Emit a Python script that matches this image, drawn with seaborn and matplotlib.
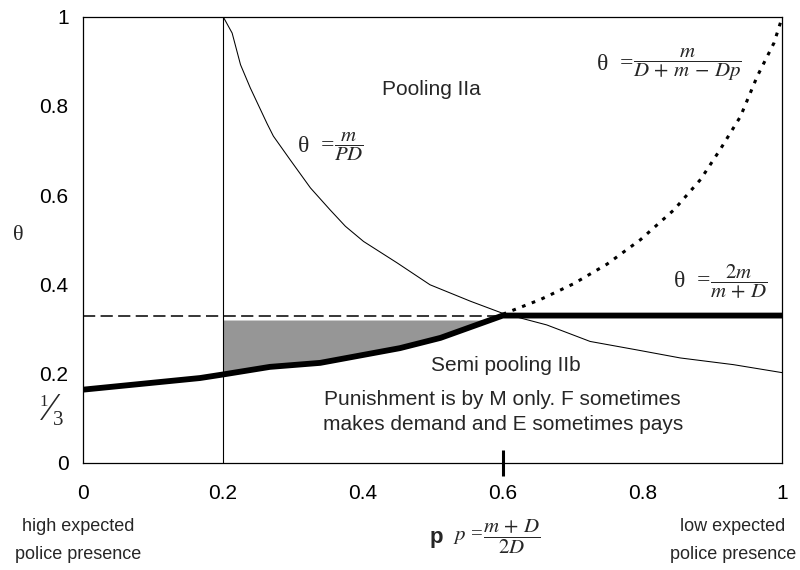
import matplotlib
matplotlib.use("Agg")
import matplotlib.pyplot as plt
import seaborn as sns

# values
tick_vals = [0, 0.2, 0.4, 0.6, 0.8, 1]
tick_labels = ["0", "0.2", "0.4", "0.6", "0.8", "1"]
threshold_p = [0.6]

# thin curve theta = m / (PD)
pd_p = [0.2, 0.213, 0.225, 0.239, 0.263, 0.272, 0.296, 0.325, 0.353, 0.375, 0.401,
        0.449, 0.496, 0.554, 0.6, 0.663, 0.725, 0.792, 0.854, 0.93, 1.0]
pd_theta = [1.0, 0.963, 0.892, 0.840, 0.760, 0.732, 0.679, 0.616, 0.567, 0.530, 0.496,
            0.448, 0.399, 0.362, 0.335, 0.309, 0.272, 0.253, 0.235, 0.220, 0.202]

# dotted curve theta = m / (D + m - Dp), right part
dot_p = [0.6, 0.654, 0.701, 0.749, 0.797, 0.845, 0.883, 0.911, 0.94, 0.964, 0.988, 1.0]
dot_theta = [0.333, 0.366, 0.401, 0.445, 0.500, 0.567, 0.635, 0.702, 0.776, 0.866, 0.941, 1.0]

# thick equilibrium line
thick_p = [0, 0.167, 0.2, 0.267, 0.339, 0.453, 0.511, 0.6, 0.8, 1.0]
thick_theta = [0.164, 0.190, 0.198, 0.215, 0.224, 0.257, 0.280, 0.330, 0.330, 0.330]

# dashed level and grey region
dash_p = [0, 0.6]
dash_theta = [0.329, 0.329]
grey_p = [0.2, 0.267, 0.339, 0.453, 0.511, 0.59]
grey_low = [0.198, 0.215, 0.224, 0.257, 0.280, 0.320]
grey_top = 0.320

sns.set_theme(style="white")
plt.rcParams["font.family"] = ["Liberation Sans", "DejaVu Sans"]
plt.rcParams["mathtext.fontset"] = "stix"
serif = ["Liberation Serif", "DejaVu Serif"]

fig = plt.figure(figsize=(8, 5.7), dpi=100)
ax = fig.add_axes([0.104, 0.188, 0.874, 0.783])

ax.fill_between(grey_p, grey_low, grey_top, color="#969696", lw=0, zorder=1)
ax.plot([0.2, 0.2], [0, 1], color="black", lw=0.8, zorder=2)

sns.lineplot(x=pd_p, y=pd_theta, ax=ax, color="black", lw=0.75, sort=False,
             estimator=None, zorder=3)
sns.lineplot(x=dash_p, y=dash_theta, ax=ax, color="black", lw=1.1,
             linestyle=(0, (8, 3.5)), estimator=None, zorder=3)
sns.lineplot(x=dot_p, y=dot_theta, ax=ax, color="black", lw=2.2,
             linestyle=(0, (1.2, 2.2)), estimator=None, sort=False, zorder=3)
sns.lineplot(x=thick_p, y=thick_theta, ax=ax, color="black", lw=4.2,
             estimator=None, sort=False, zorder=4)

ax.set_xlim(0, 1)
ax.set_ylim(0, 1)
ax.xaxis.remove_overlapping_locs = False
ax.set_xticks(tick_vals)
ax.set_xticklabels(tick_labels)
ax.set_xticks(threshold_p, minor=True)
ax.set_yticks(tick_vals)
ax.set_yticklabels(tick_labels)
ax.tick_params(axis="x", which="major", direction="in", length=4.5, width=0.8, pad=15,
               labelsize=15, colors="black")
ax.tick_params(axis="x", which="minor", direction="inout", length=19, width=2.2,
               colors="black", bottom=True)
ax.tick_params(axis="y", direction="inout", length=9, width=0.8, pad=6,
               labelsize=15, colors="black")

for s in ax.spines.values():
    s.set_color("black")
    s.set_linewidth(0.9)

ax.set_ylabel("\u03b8", rotation=0, fontsize=16, family=serif, va="center")
ax.yaxis.set_label_coords(-0.093, 0.51)

ax.text(0.498, 0.836, "Pooling IIa", fontsize=15, ha="center", va="center")
ax.text(0.605, 0.217, "Semi pooling IIb", fontsize=15, ha="center", va="center")
ax.text(0.6, 0.141, "Punishment is by M only. F sometimes", fontsize=15,
        ha="center", va="center")
ax.text(0.6, 0.087, "makes demand and E sometimes pays", fontsize=15,
        ha="center", va="center")

# formula labels: theta part in serif, fraction in stix mathtext
ax.text(0.359, 0.709, "\u03b8  =", fontsize=17, family=serif, ha="right", va="center")
ax.text(0.359, 0.709, r"$\dfrac{m}{PD}$", fontsize=15, ha="left", va="center")
ax.text(0.787, 0.892, "\u03b8  =", fontsize=17, family=serif, ha="right", va="center")
ax.text(0.787, 0.892, r"$\dfrac{m}{D\,+\,m\,-\,Dp}$", fontsize=15, ha="left", va="center")
ax.text(0.897, 0.406, "\u03b8  =", fontsize=17, family=serif, ha="right", va="center")
ax.text(0.897, 0.406, r"$\dfrac{2m}{m\,+\,D}$", fontsize=15, ha="left", va="center")

ax.text(0.505, -0.168, "p", fontsize=16, fontweight="bold", ha="center", va="center",
        clip_on=False)
ax.text(0.572, -0.166, "$p$ =", fontsize=15, family=serif, ha="right", va="center",
        clip_on=False)
ax.text(0.572, -0.166, r"$\dfrac{m\,+\,D}{2D}$", fontsize=15, ha="left", va="center",
        clip_on=False)

ax.text(-0.007, -0.173, "high expected\npolice presence", fontsize=13, ha="center",
        va="center", linespacing=1.85, clip_on=False)
ax.text(0.929, -0.173, "low expected\npolice presence", fontsize=13, ha="center",
        va="center", linespacing=1.85, clip_on=False)

ax.text(-0.057, 0.137, "1", fontsize=12, family=serif, ha="center", va="center", clip_on=False)
ax.text(-0.048, 0.118, "\u2044", fontsize=28, family=serif, ha="center", va="center", clip_on=False)
ax.text(-0.036, 0.094, "3", fontsize=15, family=serif, ha="center", va="center", clip_on=False)

fig.savefig("out.png", dpi=100)
